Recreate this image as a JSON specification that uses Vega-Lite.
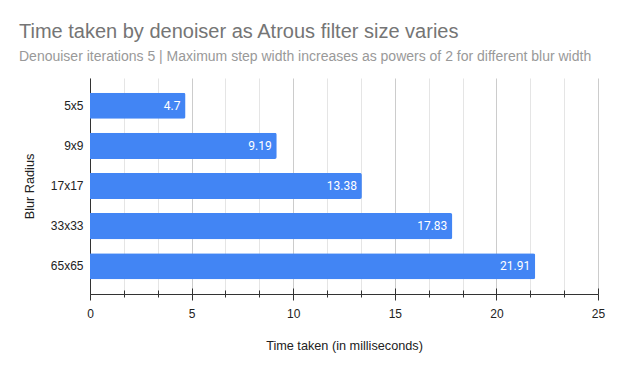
{
  "$schema": "https://vega.github.io/schema/vega-lite/v6.json",
  "autosize": "none",
  "width": 508,
  "height": 216,
  "padding": {"left": 90, "top": 78, "right": 20, "bottom": 77},
  "background": "white",
  "title": {
    "text": "Time taken by denoiser as Atrous filter size varies",
    "subtitle": "Denouiser iterations 5 | Maximum step width increases as powers of 2 for different blur width",
    "anchor": "start",
    "frame": "group",
    "dx": -71,
    "offset": 14,
    "font": "Liberation Sans",
    "fontSize": 20,
    "fontWeight": "normal",
    "color": "#757575",
    "subtitleFont": "Liberation Sans",
    "subtitleFontSize": 14,
    "subtitleColor": "#999999",
    "subtitlePadding": 8
  },
  "config": {
    "view": {"stroke": null},
    "axis": {"labelFont": "Liberation Sans", "titleFont": "Liberation Sans", "labelFontSize": 12, "titleFontSize": 12.7, "labelColor": "#222222", "titleColor": "#222222", "titleFontWeight": "normal", "labelFlush": false}
  },
  "data": {
    "values": [
      {"radius": "5x5", "time": 4.7},
      {"radius": "9x9", "time": 9.19},
      {"radius": "17x17", "time": 13.38},
      {"radius": "33x33", "time": 17.83},
      {"radius": "65x65", "time": 21.91}
    ]
  },
  "encoding": {
    "y": {
      "field": "radius", "type": "nominal", "sort": null,
      "scale": {"paddingInner": 0.35, "paddingOuter": 0.365},
      "axis": {"title": "Blur Radius", "ticks": false, "labelPadding": 7, "domainColor": "#333333", "titlePadding": 14, "grid": false}
    }
  },
  "layer": [
    {
      "mark": {"type": "bar", "opacity": 0},
      "encoding": {
        "x": {"field": "time", "type": "quantitative", "scale": {"domain": [0, 25], "nice": false},
          "axis": {"orient": "bottom", "values": [1.6667, 3.3333, 6.6667, 8.3333, 11.6667, 13.3333, 16.6667, 18.3333, 21.6667, 23.3333], "grid": true, "gridColor": "#e5e5e5", "labels": false, "title": null, "domain": false, "tickColor": "#333333", "tickSize": 3}
        }
      }
    },
    {
      "mark": {"type": "bar", "opacity": 0},
      "encoding": {
        "x": {"field": "time", "type": "quantitative",
          "axis": {"orient": "bottom", "values": [1.6667, 3.3333, 6.6667, 8.3333, 11.6667, 13.3333, 16.6667, 18.3333, 21.6667, 23.3333], "grid": false, "labels": false, "title": null, "domain": false, "tickColor": "#333333", "tickSize": -4}
        }
      }
    },
    {
      "mark": {"type": "bar", "opacity": 0},
      "encoding": {
        "x": {"field": "time", "type": "quantitative",
          "axis": {"orient": "bottom", "values": [0, 5, 10, 15, 20, 25], "grid": false, "labels": false, "title": null, "domain": false, "tickColor": "#333333", "tickSize": -6}
        }
      }
    },
    {
      "mark": {"type": "bar", "color": "#4285F4", "cornerRadiusEnd": 2},
      "encoding": {
        "x": {"field": "time", "type": "quantitative",
          "axis": {"orient": "bottom", "values": [0, 5, 10, 15, 20, 25], "grid": true, "gridColor": "#cccccc", "title": "Time taken (in milliseconds)", "domainColor": "#333333", "tickColor": "#333333", "tickSize": 6, "labelPadding": 8, "titlePadding": 20}
        }
      }
    },
    {
      "mark": {"type": "text", "align": "right", "dx": -5, "color": "white", "font": "Roboto", "fontSize": 12},
      "encoding": {
        "x": {"field": "time", "type": "quantitative", "axis": null},
        "text": {"field": "time", "type": "quantitative"}
      }
    }
  ],
  "resolve": {"axis": {"x": "independent"}}
}
